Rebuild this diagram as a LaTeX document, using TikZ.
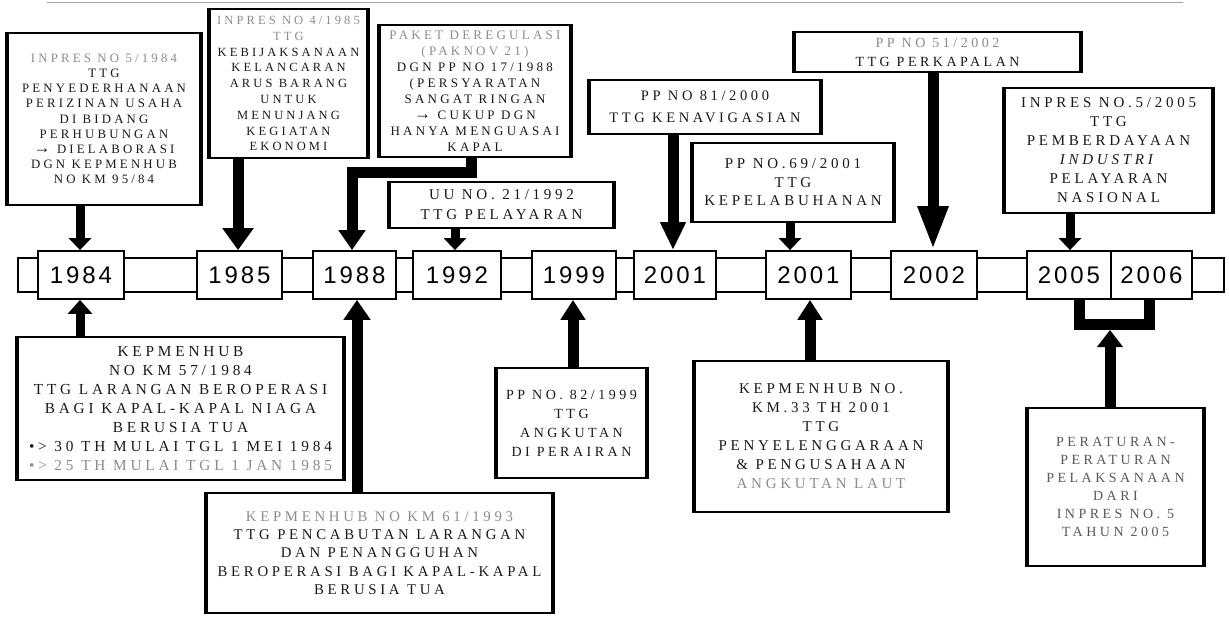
\documentclass[tikz,border=0pt]{standalone}
\usepackage{fontspec}
\setmainfont{Liberation Serif}
\newfontfamily\bxf{Liberation Serif}[LetterSpace=25]
\newfontfamily\yrf{Liberation Sans}[LetterSpace=12]
\usetikzlibrary{arrows.meta}
\newcommand\fz[2]{\fontsize{#1}{#2}\selectfont}
\newcommand\fd[1]{\textcolor{black!45}{#1}}
\newcommand\rarr{{\fontsize{17}{15}\selectfont →}}
\begin{document}
\begin{tikzpicture}[x=1pt,y=-1pt,
  docbox/.style={draw=black, line width=1.6pt, fill=white, inner sep=0pt, align=center, text=black!90},
  yearbox/.style={draw=black, line width=1.8pt, fill=white, minimum height=48pt, inner sep=0pt, font=\yrf\fz{24}{24}},
  bigarrow/.style={line width=11pt, -{Triangle[width=26pt,length=20pt]}},
  smallarrow/.style={line width=9pt, -{Triangle[width=22pt,length=12pt]}},
  thickside/.style={line width=3.6pt},
  shaft/.style={line width=11pt, line join=miter}]
\useasboundingbox (0,0) rectangle (1229,619);
\fill[white] (0,0) rectangle (1229,619);
\draw[black!35, line width=0.8pt] (47,2) -- (1183,2);

% timeline band and year boxes
\node[draw=black, line width=1.8pt, fill=white, minimum width=1206pt, minimum height=34pt, inner sep=0pt] (band) at (621,275) {};
\node[yearbox, minimum width=86pt] (y84) at (81,275) {1984};
\node[yearbox, minimum width=85pt] (y85) at (239.5,275) {1985};
\node[yearbox, minimum width=83pt] (y88) at (354.5,275) {1988};
\node[yearbox, minimum width=88pt] (y92) at (457,275) {1992};
\node[yearbox, minimum width=84pt] (y99) at (574,275) {1999};
\node[yearbox, minimum width=82pt] (y01) at (675,275) {2001};
\node[yearbox, minimum width=85pt] (y01b) at (808.5,275) {2001};
\node[yearbox, minimum width=86pt] (y02) at (934,275) {2002};
\node[yearbox, minimum width=84pt] (y05) at (1069,275) {2005};
\node[yearbox, minimum width=81pt] (y06) at (1151.5,275) {2006};

% top documents
\node[docbox, minimum width=192pt, minimum height=172pt, font=\bxf\fz{12.8}{15.2}] (b1) at (104,119)
 {\fd{INPRES NO 5/1984}\\TTG\\PENYEDERHANAAN\\PERIZINAN USAHA\\DI BIDANG\\PERHUBUNGAN\\\rarr\ DIELABORASI\\DGN KEPMENHUB\\NO KM 95/84};
\node[docbox, minimum width=157pt, minimum height=149pt, font=\bxf\fz{12.5}{15.8}] (b2) at (288.5,83.5)
 {\fd{INPRES NO 4/1985}\\\fd{TTG}\\KEBIJAKSANAAN\\KELANCARAN\\ARUS BARANG\\UNTUK\\MENUNJANG\\KEGIATAN\\EKONOMI};
\node[docbox, minimum width=190pt, minimum height=132pt, font=\bxf\fz{13}{16}] (b3) at (475,91)
 {\fd{PAKET DEREGULASI}\\\fd{(PAKNOV 21)}\\DGN PP NO 17/1988\\(PERSYARATAN\\SANGAT RINGAN\\\rarr\ CUKUP DGN\\HANYA MENGUASAI\\KAPAL};
\node[docbox, minimum width=223pt, minimum height=46pt, font=\bxf\fz{15}{20}] (b4) at (501.5,205)
 {UU NO. 21/1992\\TTG PELAYARAN};
\node[docbox, minimum width=230pt, minimum height=54pt, font=\bxf\fz{14.5}{22}] (b5) at (705,107)
 {PP NO 81/2000\\TTG KENAVIGASIAN};
\node[docbox, minimum width=200pt, minimum height=79pt, font=\bxf\fz{15}{18.5}] (b6) at (793,182.5)
 {PP NO.69/2001\\TTG\\KEPELABUHANAN};
\node[docbox, minimum width=285pt, minimum height=40pt, font=\bxf\fz{14}{19}] (b7) at (937.5,52)
 {\fd{PP NO 51/2002}\\TTG PERKAPALAN};
\node[docbox, minimum width=207pt, minimum height=125pt, font=\bxf\fz{15}{19}] (b8) at (1108.5,150.5)
 {INPRES NO.5/2005\\TTG\\PEMBERDAYAAN\\\textit{INDUSTRI}\\PELAYARAN\\NASIONAL};

% bottom documents
\node[docbox, minimum width=325pt, minimum height=143pt, font=\bxf\fz{15.3}{19}] (b9) at (180.5,408.5)
 {KEPMENHUB\\NO KM 57/1984\\TTG LARANGAN BEROPERASI\\BAGI KAPAL-KAPAL NIAGA\\BERUSIA TUA\\•> 30 TH MULAI TGL 1 MEI 1984\\\fd{•> 25 TH MULAI TGL 1 JAN 1985}};
\node[docbox, minimum width=345pt, minimum height=120pt, font=\bxf\fz{14.8}{18.3}] (b10) at (379.5,553)
 {\fd{KEPMENHUB NO KM 61/1993}\\TTG PENCABUTAN LARANGAN\\DAN PENANGGUHAN\\BEROPERASI BAGI KAPAL-KAPAL\\BERUSIA TUA};
\node[docbox, minimum width=149pt, minimum height=110pt, font=\bxf\fz{14}{19}] (b11) at (571.5,423)
 {PP NO. 82/1999\\TTG\\ANGKUTAN\\DI PERAIRAN};
\node[docbox, minimum width=252pt, minimum height=151pt, font=\bxf\fz{15}{19}] (b12) at (821,436.5)
 {KEPMENHUB NO.\\KM.33 TH 2001\\TTG\\PENYELENGGARAAN\\\& PENGUSAHAAN\\\fd{ANGKUTAN LAUT}};
\node[docbox, minimum width=175pt, minimum height=158pt, font=\bxf\fz{14}{18}, text=black!65] (b13) at (1115.5,487)
 {PERATURAN-\\PERATURAN\\PELAKSANAAN\\DARI\\INPRES NO. 5\\TAHUN 2005};

% thick side borders
\foreach \n in {b1,b2,b3,b4,b5,b6,b7,b8,b9,b10,b11,b12,b13}
  \draw[thickside] (\n.north west) -- (\n.south west) (\n.north east) -- (\n.south east);

% connector helper coordinates
\coordinate (a84) at (80,0);
\coordinate (a85) at (238,0);
\coordinate (c3a) at (471,172);
\coordinate (c3b) at (352,172);
\coordinate (a92) at (455,0);
\coordinate (a01) at (673,0);
\coordinate (a69) at (790,0);
\coordinate (a02) at (933,0);
\coordinate (a05) at (1070,0);
\coordinate (a88) at (357,0);
\coordinate (a99) at (573,0);
\coordinate (a33) at (810,0);
\coordinate (brl) at (1079,324);
\coordinate (brr) at (1149,324);
\coordinate (brm) at (1110,330);

% top connectors
\draw[smallarrow] (b1.south -| a84) -- (y84.north -| a84);
\draw[bigarrow, -{Triangle[width=30pt,length=22pt]}] (b2.south -| a85) -- (y85.north -| a85);
\draw[bigarrow, line join=miter] (b3.south -| c3a) -- (c3a) -- (c3b) -- (c3b |- y88.north);
\draw[smallarrow] (b4.south -| a92) -- (y92.north -| a92);
\draw[bigarrow, -{Triangle[width=24pt,length=28pt]}] (b5.south -| a01) -- (y01.north -| a01);
\draw[smallarrow] (b6.south -| a69) -- (y01b.north -| a69);
\draw[bigarrow, -{Triangle[width=28pt,length=44pt]}] (b7.south -| a02) -- (y02.north -| a02);
\draw[smallarrow] (b8.south -| a05) -- (y05.north -| a05);

% bottom connectors
\draw[smallarrow, -{Triangle[width=24pt,length=14pt]}] (b9.north -| a84) -- (y84.south -| a84);
\draw[bigarrow] (b10.north -| a88) -- (y88.south -| a88);
\draw[bigarrow, -{Triangle[width=24pt,length=20pt]}] (b11.north -| a99) -- (y99.south -| a99);
\draw[bigarrow, -{Triangle[width=24pt,length=20pt]}] (b12.north -| a33) -- (y01b.south -| a33);
\draw[shaft] (brl |- y05.south) -- (brl) -- (brr) -- (brr |- y06.south);
\draw[bigarrow, -{Triangle[width=25pt,length=17pt]}] (b13.north -| brm) -- (brm);
\end{tikzpicture}
\end{document}
